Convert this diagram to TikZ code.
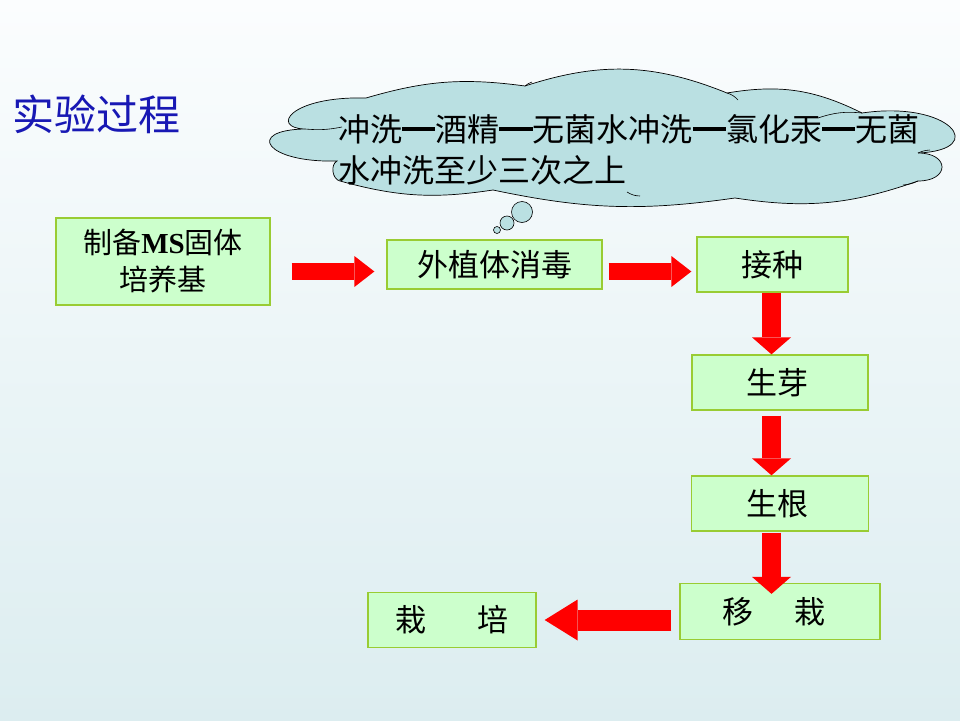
\documentclass[tikz,border=0pt]{standalone}
\usepackage{fontspec}
\setmainfont{Liberation Serif}
\newfontfamily\cjk{Noto Sans CJK SC}
\usetikzlibrary{arrows.meta,calc}
\definecolor{bgtop}{RGB}{251,253,254}
\definecolor{bgbot}{RGB}{220,237,240}
\definecolor{boxfill}{RGB}{204,255,204}
\definecolor{boxline}{RGB}{153,204,51}
\definecolor{cloudfill}{RGB}{186,224,226}
\definecolor{titleblue}{RGB}{24,24,180}
\newcommand\mydash{\rule[\dimexpr0.38em-1.6pt\relax]{1.04em}{3.2pt}}
\begin{document}
\begin{tikzpicture}[x=1pt,y=-1pt,
  stepbox/.style={draw=boxline,line width=1.3pt,fill=boxfill,inner sep=0pt,
    font=\cjk\fontsize{31}{37}\selectfont,text=black,align=center},
  harrow/.style={draw=red,line width=17pt,line cap=butt,
    -{Triangle[length=20pt,width=31pt,line width=0pt]}},
  varrow/.style={draw=red,line width=19pt,line cap=butt,
    -{Triangle[length=17pt,width=39pt,line width=0pt]}},
  larrow/.style={draw=red,line width=21pt,line cap=butt,
    -{Triangle[length=33pt,width=41pt,line width=0pt]}},
  cloudline/.style={draw=black,line width=0.7pt,fill=cloudfill},
  bubble/.style={draw=black,line width=0.6pt,fill=cloudfill,circle,inner sep=0pt}]
\shade[top color=bgtop,bottom color=bgbot] (0,0) rectangle (960,720);
\useasboundingbox (0,0) rectangle (960,720);

\node[anchor=west,text=titleblue,font=\cjk\fontsize{42}{46}\selectfont] (title) at (9,114) {实验过程};

% cloud (drawn directly)
\path[cloudline] (305,129)
  .. controls (270,128) and (290,96) .. (366,98)
  to[bend left=12] (525,86)
  to[bend left=20] (727,93)
  to[bend left=18] (862,113)
  .. controls (950,100) and (990,150) .. (918,153)
  .. controls (950,153) and (950,181) .. (918,181)
  to[bend left=14] (735,198)
  to[bend left=10] (493,190)
  to[bend left=12] (340,181)
  to[bend left=70] (337,161)
  .. controls (265,163) and (245,130) .. (305,129) -- cycle;
% inner lobe traces
\draw[black,line width=0.6pt] (305,129) to[bend right=8] (342,127);
\draw[black,line width=0.6pt] (525,86) to[bend left=10] (532,82);
\draw[black,line width=0.6pt] (727,93) to[bend left=15] (738,100);
\draw[black,line width=0.6pt] (862,113) to[bend right=12] (818,118);
\draw[black,line width=0.6pt] (918,181) to[bend left=10] (903,185);
\draw[black,line width=0.6pt] (918,153) to[bend left=10] (930,150);
\draw[black,line width=0.6pt] (627,192) to[bend right=15] (640,196);

\node[bubble,minimum size=21pt] (b1) at (522,212) {};
\node[bubble,minimum size=14pt] (b2) at (507,223) {};
\node[bubble,minimum size=7pt] (b3) at (497,230) {};
\node[anchor=north west,align=left,inner sep=0pt,
  font=\cjk\fontsize{32}{41}\selectfont] (ctext) at (338,114)
  {冲洗\mydash 酒精\mydash 无菌水冲洗\mydash 氯化汞\mydash 无菌\\水冲洗至少三次之上};

% boxes
\node[stepbox,minimum width=214pt,minimum height=87pt,font=\cjk\fontsize{29}{37}\selectfont] (m1) at (163,261.5)
  {制备{\fontspec{Liberation Serif}\bfseries MS}固体\\培养基};
\node[stepbox,minimum width=215pt,minimum height=49pt] (m2) at (494.5,264.5) {外植体消毒};
\node[stepbox,minimum width=151pt,minimum height=55pt] (m3) at (772.5,264.5) {接种};
\node[stepbox,minimum width=176pt,minimum height=55pt] (m4) at (780,382.5) {\hspace{-6pt}生芽};
\node[stepbox,minimum width=177pt,minimum height=55pt] (m5) at (780,503.5) {\hspace{-6pt}生根};
\node[stepbox,minimum width=200pt,minimum height=56pt] (m6) at (780,611.5) {\hspace{-12pt}移\hspace{41pt}栽};
\node[stepbox,minimum width=168pt,minimum height=55pt] (m7) at (452,620) {栽\hspace{52pt}培};

% arrows
\draw[harrow] ([xshift=21pt,yshift=-10pt]m1.east) -- ([xshift=-12pt]m2.west |- 0,271.5);
\draw[harrow] ([xshift=6pt,yshift=-7pt]m2.east) -- ([xshift=-5pt]m3.west |- 0,271.5);
\draw[varrow] ([xshift=-1pt]m3.south) -- ([xshift=-1pt]m3.south |- m4.north);
\draw[varrow] ([xshift=-8.5pt,yshift=-5pt]m4.south) -- ([xshift=-8.5pt]m4.south |- m5.north);
\draw[varrow] ([xshift=-8.5pt,yshift=-1pt]m5.south) -- ([xshift=-8.5pt,yshift=-11pt]m5.south |- m6.north);
\draw[larrow] ([xshift=-8pt,yshift=-8.5pt]m6.west) -- ([xshift=8pt]m7.east);
\end{tikzpicture}
\end{document}
